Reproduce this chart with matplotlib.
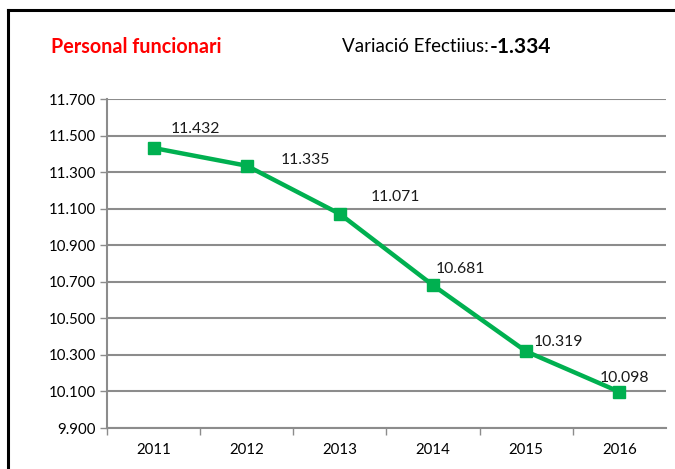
import matplotlib.pyplot as plt
from matplotlib.lines import Line2D
from matplotlib.ticker import FuncFormatter, FixedLocator

years = ["2011", "2012", "2013", "2014", "2015", "2016"]
staff = [11432, 11335, 11071, 10681, 10319, 10098]
variation = -1334
y_ticks = [9900, 10100, 10300, 10500, 10700, 10900, 11100, 11300, 11500, 11700]

# label offsets in points (dx, dy), placed like the original
label_offsets = [(30, 14), (42, 4), (40, 12), (20, 12), (23, 7), (4, 10)]


def dotted(v, pos=None):
    return f"{v:,.0f}".replace(",", ".")


def main():
    plt.rcParams['font.family'] = ['Lato', 'DejaVu Sans']
    grey = '#8c8c8c'
    green = '#00b050'

    fig = plt.figure(figsize=(6.75, 4.69), dpi=100)
    ax = fig.add_axes([0.1585, 0.0874, 0.828, 0.7015])

    x = list(range(len(years)))
    ax.plot(x, staff, color=green, lw=3.2, marker='s', ms=8.5, zorder=3)
    for xi, v, (dx, dy) in zip(x, staff, label_offsets):
        ax.annotate(dotted(v), (xi, v), xytext=(dx, dy), textcoords='offset points',
                    ha='center', va='center', fontsize=11.3, color='#1a1a1a')

    ax.set_xlim(-0.5, 5.5)
    ax.set_ylim(9900, 11700)
    ax.set_yticks(y_ticks)
    ax.yaxis.set_major_formatter(FuncFormatter(dotted))
    ax.set_xticks(x)
    ax.set_xticklabels(years)
    ax.xaxis.set_minor_locator(FixedLocator([-0.5, 0.5, 1.5, 2.5, 3.5, 4.5]))
    ax.tick_params(axis='x', which='major', length=0, pad=11, labelsize=10.8)
    ax.tick_params(axis='x', which='minor', length=5, color=grey, width=1)
    ax.tick_params(axis='y', length=5, color=grey, width=1, labelsize=10.8, pad=3)
    ax.grid(axis='y', color=grey, lw=1.5)
    ax.set_axisbelow(True)
    for s in ['top', 'right']:
        ax.spines[s].set_visible(False)
    for s in ['left', 'bottom']:
        ax.spines[s].set_color(grey)
        ax.spines[s].set_linewidth(1.5)

    fig.text(0.0756, 0.9, "Personal funcionari", color='#ff0000', fontweight='bold',
             fontsize=14.2, va='center')
    t = fig.text(0.507, 0.9, "Variació Efectiius:", color='black', fontsize=13.5,
                 va='center')
    # bold number right after the label
    fig.add_artist(plt.Annotation(dotted(variation), xy=(1, 0.5), xycoords=t,
                                  xytext=(0.5, 0), textcoords='offset points',
                                  va='center', ha='left', fontweight='bold',
                                  fontsize=15, color='black'))

    # frame of the original chart box
    fig.add_artist(Line2D([0.012, 1.0], [0.979, 0.979], color='black', lw=2.2,
                          transform=fig.transFigure))
    fig.add_artist(Line2D([0.012, 0.012], [0.0, 0.979], color='black', lw=2.2,
                          transform=fig.transFigure))

    fig.savefig("out.png", dpi=100)


if __name__ == "__main__":
    main()
